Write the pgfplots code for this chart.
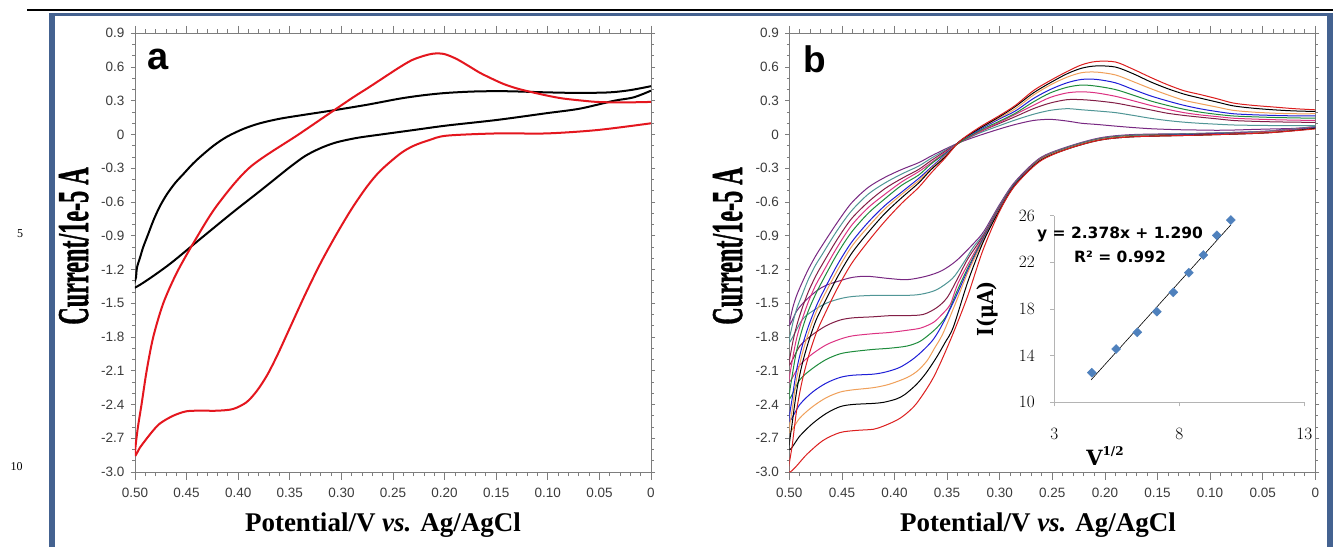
\documentclass[border=0pt]{standalone}
\usepackage{pgfplots}
\pgfplotsset{compat=1.18}
\usepackage{fontspec}
\setmainfont{Liberation Serif}
\newfontfamily\arial{Liberation Sans}
\newfontfamily\dserif{DejaVu Serif}
\newfontfamily\dsans{DejaVu Sans}
\newfontfamily\hserif[FakeBold=1.2]{Liberation Serif Bold}
\definecolor{frameblue}{RGB}{68,98,144}
\definecolor{axgray}{RGB}{125,125,125}
\definecolor{insgray}{RGB}{180,180,180}
\definecolor{ticklab}{RGB}{60,60,60}
\definecolor{cvred}{RGB}{228,22,30}
\definecolor{bred}{RGB}{220,30,30}
\definecolor{borange}{RGB}{240,160,90}
\definecolor{bblue}{RGB}{30,30,215}
\definecolor{bgreen}{RGB}{30,140,60}
\definecolor{bmagenta}{RGB}{220,50,130}
\definecolor{bmaroon}{RGB}{130,30,70}
\definecolor{bteal}{RGB}{80,150,150}
\definecolor{bpurple}{RGB}{120,40,130}
\definecolor{dblue}{RGB}{79,129,189}
\pgfplotsset{
 cvaxis/.style={scale only axis, height=438.7pt,
  xmin=0, xmax=0.5, x dir=reverse, ymin=-3, ymax=0.9,
  xtick={0,0.05,0.1,0.15,0.2,0.25,0.3,0.35,0.4,0.45,0.5},
  xticklabels={0,0.05,0.10,0.15,0.20,0.25,0.30,0.35,0.40,0.45,0.50},
  ytick={-3,-2.7,-2.4,-2.1,-1.8,-1.5,-1.2,-0.9,-0.6,-0.3,0,0.3,0.6,0.9},
  yticklabels={-3.0,-2.7,-2.4,-2.1,-1.8,-1.5,-1.2,-0.9,-0.6,-0.3,0,0.3,0.6,0.9},
  minor x tick num=4, minor y tick num=2, tick align=outside,
  axis line style={draw=axgray, line width=0.9pt},
  every tick/.append style={draw=axgray, line width=0.8pt},
  major tick length=4pt, minor tick length=2.5pt,
  xtick style={/pgfplots/major tick length=7.5pt,/pgfplots/minor tick length=4pt},
  tick label style={font=\arial\fontsize{13.5}{15}\selectfont, text=ticklab},
  xticklabel style={yshift=-9pt},
  yticklabel style={xshift=-3pt},
 },
 cva/.style={line width=2pt, smooth, tension=0.5},
 cvb/.style={line width=1pt, smooth, tension=0.5},
}
\begin{document}
\begin{tikzpicture}
\useasboundingbox (0pt,0pt) rectangle (1333pt,547pt);
\fill[white] (0pt,0pt) rectangle (1333pt,547pt);
% frame
\fill[frameblue] (49.3pt,0pt) rectangle (55pt,534.3pt);
\fill[frameblue] (49.3pt,531pt) rectangle (1333pt,534.3pt);
\fill[frameblue] (1327pt,0pt) rectangle (1333pt,534.3pt);
\draw[line width=1.3pt] (27pt,537pt) -- (1333pt,537pt);
\node[font=\fontsize{12}{14}\selectfont] at (20pt,313pt) {5};
\node[font=\fontsize{12}{14}\selectfont] at (16.7pt,80pt) {10};

% ---------------- panel a
\begin{axis}[cvaxis, at={(135pt,75pt)}, anchor=south west, width=516pt]
\addplot[black, cva] coordinates {
(0,0.39)(0.017,0.33)(0.036,0.30)(0.069,0.23)(0.101,0.19)(0.149,0.13)(0.198,0.08)(0.230,0.04)(0.262,0.0)(0.285,-0.03)(0.305,-0.07)(0.32,-0.12)(0.335,-0.19)(0.35,-0.29)(0.365,-0.40)(0.38,-0.51)(0.405,-0.69)(0.437,-0.93)(0.469,-1.17)(0.5,-1.36)
(0.499,-1.27)(0.498,-1.18)(0.495,-1.09)(0.492,-1.0)(0.487,-0.88)(0.482,-0.76)(0.476,-0.64)(0.469,-0.53)(0.461,-0.43)(0.453,-0.35)(0.445,-0.27)(0.437,-0.20)(0.424,-0.10)(0.411,-0.02)(0.395,0.05)(0.379,0.10)(0.36,0.14)(0.340,0.17)(0.308,0.215)(0.275,0.265)(0.243,0.32)(0.220,0.35)(0.198,0.37)(0.170,0.383)(0.140,0.385)(0.101,0.375)(0.07,0.37)(0.04,0.375)(0.02,0.395)(0,0.43)};
\addplot[cvred, cva] coordinates {
(0,0.10)(0.052,0.04)(0.101,0.01)(0.149,0.01)(0.198,-0.01)(0.215,-0.05)(0.230,-0.10)(0.243,-0.17)(0.262,-0.32)(0.275,-0.46)(0.29,-0.66)(0.305,-0.89)(0.32,-1.14)(0.335,-1.42)(0.35,-1.72)(0.362,-1.96)(0.372,-2.14)(0.382,-2.28)(0.392,-2.38)(0.405,-2.44)(0.42,-2.455)(0.435,-2.455)(0.450,-2.46)(0.463,-2.50)(0.476,-2.57)(0.485,-2.66)(0.495,-2.78)(0.5,-2.85)
(0.4976,-2.63)(0.4935,-2.39)(0.4887,-2.10)(0.4823,-1.80)(0.4726,-1.50)(0.4593,-1.225)(0.4418,-0.94)(0.4205,-0.63)(0.3885,-0.29)(0.340,0.01)(0.292,0.31)(0.275,0.41)(0.26,0.50)(0.245,0.59)(0.232,0.66)(0.22,0.70)(0.21,0.72)(0.2,0.715)(0.188,0.67)(0.175,0.60)(0.166,0.55)(0.155,0.50)(0.143,0.45)(0.13,0.41)(0.117,0.38)(0.1,0.345)(0.085,0.32)(0.065,0.30)(0.052,0.29)(0.03,0.285)(0,0.29)};
\end{axis}

% ---------------- panel b
\begin{axis}[cvaxis, at={(789.3pt,75pt)}, anchor=south west, width=526pt]
% purple
\addplot[bpurple, cvb] coordinates {
(0,0.07)(0.046,0.03)(0.11,0.01)(0.173,0.0)(0.205,-0.03)(0.236,-0.11)(0.262,-0.21)(0.2855,-0.42)(0.30,-0.62)(0.315,-0.86)(0.325,-0.97)(0.341,-1.12)(0.355,-1.21)(0.37,-1.26)(0.388,-1.29)(0.405,-1.28)(0.426,-1.26)(0.44,-1.27)(0.452,-1.30)(0.465,-1.34)(0.474,-1.39)(0.485,-1.48)(0.493,-1.57)(0.5,-1.70)
(0.497,-1.55)(0.493,-1.43)(0.488,-1.32)(0.482,-1.20)(0.475,-1.08)(0.469,-0.99)(0.455,-0.79)(0.441,-0.61)(0.425,-0.47)(0.409,-0.38)(0.393,-0.31)(0.377,-0.25)(0.365,-0.19)(0.352,-0.13)(0.338,-0.07)
(0.32,-0.01)(0.30,0.05)(0.285,0.09)(0.268,0.125)(0.252,0.135)(0.236,0.12)(0.222,0.10)(0.208,0.09)(0.19,0.075)(0.173,0.062)(0.157,0.052)(0.141,0.046)(0.125,0.042)(0.11,0.04)(0.094,0.038)(0.078,0.04)(0.06,0.045)(0.04,0.05)(0.02,0.055)(0,0.07)};
% teal
\addplot[bteal, cvb] coordinates {
(0,0.07)(0.046,0.03)(0.11,0.01)(0.173,-0.005)(0.205,-0.035)(0.236,-0.115)(0.262,-0.215)(0.2855,-0.43)(0.30,-0.63)(0.315,-0.88)(0.325,-1.0)(0.335,-1.15)(0.345,-1.28)(0.36,-1.38)(0.375,-1.42)(0.39,-1.43)(0.42,-1.43)(0.44,-1.44)(0.452,-1.46)(0.465,-1.50)(0.478,-1.57)(0.488,-1.65)(0.5,-1.85)
(0.497,-1.69)(0.493,-1.55)(0.488,-1.43)(0.482,-1.29)(0.475,-1.16)(0.469,-1.07)(0.455,-0.86)(0.441,-0.68)(0.425,-0.53)(0.409,-0.43)(0.393,-0.35)(0.377,-0.28)(0.365,-0.21)(0.352,-0.14)(0.338,-0.07)
(0.32,0.01)(0.30,0.08)(0.285,0.13)(0.268,0.18)(0.252,0.215)(0.236,0.23)(0.222,0.22)(0.208,0.21)(0.19,0.195)(0.173,0.17)(0.157,0.145)(0.141,0.125)(0.125,0.11)(0.11,0.10)(0.094,0.092)(0.078,0.085)(0.06,0.082)(0.04,0.08)(0.02,0.08)(0,0.08)};
% maroon
\addplot[bmaroon, cvb] coordinates {
(0,0.065)(0.046,0.025)(0.11,0.005)(0.173,-0.01)(0.205,-0.04)(0.236,-0.12)(0.262,-0.22)(0.2855,-0.435)(0.30,-0.64)(0.315,-0.89)(0.33,-1.1)(0.34,-1.28)(0.35,-1.45)(0.36,-1.54)(0.373,-1.60)(0.39,-1.61)(0.404,-1.61)(0.42,-1.62)(0.44,-1.63)(0.452,-1.65)(0.465,-1.70)(0.478,-1.78)(0.49,-1.88)(0.5,-2.05)
(0.497,-1.86)(0.493,-1.70)(0.488,-1.55)(0.482,-1.40)(0.475,-1.26)(0.469,-1.16)(0.455,-0.94)(0.441,-0.75)(0.425,-0.60)(0.409,-0.48)(0.393,-0.39)(0.377,-0.31)(0.365,-0.23)(0.352,-0.15)(0.338,-0.07)
(0.32,0.02)(0.30,0.10)(0.285,0.16)(0.268,0.23)(0.252,0.28)(0.236,0.31)(0.222,0.31)(0.208,0.30)(0.19,0.28)(0.173,0.25)(0.157,0.22)(0.141,0.19)(0.125,0.17)(0.11,0.155)(0.094,0.14)(0.078,0.125)(0.06,0.118)(0.04,0.113)(0.02,0.11)(0,0.108)};
% magenta
\addplot[bmagenta, cvb] coordinates {
(0,0.065)(0.046,0.025)(0.11,0.0)(0.173,-0.01)(0.205,-0.04)(0.236,-0.12)(0.262,-0.22)(0.2855,-0.44)(0.30,-0.65)(0.315,-0.90)(0.33,-1.15)(0.34,-1.33)(0.347,-1.51)(0.355,-1.6)(0.363,-1.67)(0.375,-1.72)(0.388,-1.74)(0.405,-1.76)(0.42,-1.77)(0.44,-1.79)(0.452,-1.82)(0.465,-1.87)(0.478,-1.95)(0.49,-2.05)(0.5,-2.2)
(0.497,-2.00)(0.493,-1.81)(0.488,-1.65)(0.482,-1.49)(0.475,-1.34)(0.469,-1.24)(0.455,-1.01)(0.441,-0.81)(0.425,-0.65)(0.409,-0.53)(0.393,-0.42)(0.377,-0.33)(0.365,-0.25)(0.352,-0.16)(0.338,-0.07)
(0.32,0.02)(0.30,0.11)(0.285,0.18)(0.268,0.26)(0.252,0.33)(0.236,0.37)(0.222,0.38)(0.208,0.37)(0.19,0.34)(0.173,0.30)(0.157,0.26)(0.141,0.225)(0.125,0.195)(0.11,0.175)(0.094,0.16)(0.078,0.145)(0.06,0.138)(0.04,0.132)(0.02,0.128)(0,0.125)};
% green
\addplot[bgreen, cvb] coordinates {
(0,0.06)(0.046,0.02)(0.11,0.0)(0.173,-0.01)(0.205,-0.04)(0.236,-0.12)(0.262,-0.225)(0.2855,-0.44)(0.30,-0.655)(0.315,-0.91)(0.33,-1.18)(0.34,-1.38)(0.35,-1.60)(0.358,-1.70)(0.366,-1.77)(0.376,-1.84)(0.388,-1.88)(0.405,-1.90)(0.42,-1.91)(0.44,-1.93)(0.452,-1.95)(0.465,-2.0)(0.478,-2.08)(0.49,-2.18)(0.5,-2.35)
(0.497,-2.13)(0.493,-1.92)(0.488,-1.74)(0.482,-1.57)(0.475,-1.42)(0.469,-1.31)(0.455,-1.07)(0.441,-0.87)(0.425,-0.70)(0.409,-0.57)(0.393,-0.45)(0.377,-0.36)(0.365,-0.26)(0.352,-0.17)(0.338,-0.07)
(0.32,0.03)(0.30,0.12)(0.285,0.19)(0.268,0.29)(0.252,0.37)(0.236,0.42)(0.222,0.44)(0.208,0.43)(0.19,0.40)(0.173,0.35)(0.157,0.30)(0.141,0.26)(0.125,0.225)(0.11,0.2)(0.094,0.18)(0.078,0.165)(0.06,0.158)(0.04,0.152)(0.02,0.148)(0,0.145)};
% blue
\addplot[bblue, cvb] coordinates {
(0,0.06)(0.046,0.02)(0.11,0.0)(0.173,-0.015)(0.205,-0.045)(0.236,-0.125)(0.262,-0.23)(0.2855,-0.445)(0.30,-0.66)(0.315,-0.92)(0.33,-1.2)(0.342,-1.45)(0.354,-1.68)(0.363,-1.82)(0.373,-1.92)(0.383,-2.0)(0.395,-2.07)(0.408,-2.11)(0.42,-2.13)(0.44,-2.14)(0.452,-2.16)(0.465,-2.21)(0.478,-2.29)(0.49,-2.40)(0.5,-2.55)
(0.497,-2.33)(0.493,-2.09)(0.488,-1.89)(0.482,-1.71)(0.475,-1.54)(0.469,-1.42)(0.455,-1.17)(0.441,-0.96)(0.425,-0.78)(0.409,-0.63)(0.393,-0.51)(0.377,-0.39)(0.365,-0.29)(0.352,-0.18)(0.338,-0.06)
(0.32,0.04)(0.30,0.14)(0.285,0.21)(0.268,0.32)(0.252,0.40)(0.236,0.46)(0.222,0.49)(0.208,0.49)(0.19,0.46)(0.173,0.40)(0.157,0.345)(0.141,0.30)(0.125,0.26)(0.11,0.23)(0.094,0.205)(0.078,0.185)(0.06,0.176)(0.04,0.17)(0.02,0.166)(0,0.165)};
% orange
\addplot[borange, cvb] coordinates {
(0,0.055)(0.046,0.02)(0.11,-0.005)(0.173,-0.015)(0.205,-0.045)(0.236,-0.125)(0.262,-0.23)(0.2855,-0.45)(0.30,-0.665)(0.315,-0.93)(0.33,-1.22)(0.342,-1.50)(0.354,-1.77)(0.362,-1.90)(0.369,-2.01)(0.378,-2.10)(0.388,-2.16)(0.405,-2.22)(0.42,-2.25)(0.44,-2.27)(0.452,-2.29)(0.465,-2.34)(0.478,-2.42)(0.49,-2.52)(0.5,-2.65)
(0.497,-2.43)(0.493,-2.17)(0.488,-1.96)(0.482,-1.77)(0.475,-1.59)(0.469,-1.47)(0.455,-1.22)(0.441,-1.00)(0.425,-0.82)(0.409,-0.66)(0.393,-0.53)(0.377,-0.41)(0.365,-0.30)(0.352,-0.19)(0.338,-0.06)
(0.32,0.05)(0.30,0.15)(0.285,0.23)(0.268,0.35)(0.252,0.44)(0.236,0.51)(0.222,0.55)(0.208,0.555)(0.19,0.53)(0.173,0.47)(0.157,0.41)(0.141,0.355)(0.125,0.305)(0.11,0.275)(0.094,0.245)(0.078,0.215)(0.06,0.2)(0.04,0.19)(0.02,0.185)(0,0.185)};
% black
\addplot[black, cvb] coordinates {
(0,0.055)(0.046,0.015)(0.11,-0.005)(0.173,-0.02)(0.205,-0.05)(0.236,-0.13)(0.262,-0.235)(0.2855,-0.45)(0.30,-0.67)(0.315,-0.94)(0.33,-1.30)(0.344,-1.71)(0.352,-1.85)(0.36,-1.98)(0.37,-2.12)(0.379,-2.22)(0.39,-2.31)(0.398,-2.35)(0.41,-2.38)(0.42,-2.39)(0.44,-2.40)(0.452,-2.42)(0.465,-2.48)(0.478,-2.57)(0.49,-2.68)(0.5,-2.8)
(0.497,-2.55)(0.493,-2.28)(0.488,-2.05)(0.482,-1.85)(0.475,-1.66)(0.469,-1.54)(0.455,-1.28)(0.441,-1.06)(0.425,-0.87)(0.409,-0.70)(0.393,-0.56)(0.377,-0.43)(0.365,-0.31)(0.352,-0.20)(0.338,-0.06)
(0.32,0.05)(0.30,0.16)(0.285,0.25)(0.268,0.37)(0.252,0.46)(0.236,0.54)(0.222,0.59)(0.208,0.61)(0.19,0.60)(0.173,0.54)(0.157,0.47)(0.141,0.41)(0.125,0.36)(0.11,0.325)(0.094,0.29)(0.078,0.255)(0.06,0.235)(0.04,0.22)(0.02,0.21)(0,0.205)};
% red
\addplot[bred, cvb] coordinates {
(0,0.05)(0.046,0.015)(0.11,-0.005)(0.173,-0.02)(0.205,-0.05)(0.236,-0.13)(0.262,-0.24)(0.2855,-0.455)(0.30,-0.68)(0.316,-1.03)(0.331,-1.45)(0.347,-1.83)(0.363,-2.16)(0.379,-2.39)(0.39,-2.49)(0.398,-2.54)(0.41,-2.59)(0.42,-2.62)(0.436,-2.63)(0.452,-2.65)(0.468,-2.72)(0.483,-2.84)(0.5,-3.0)
(0.497,-2.75)(0.493,-2.45)(0.488,-2.2)(0.482,-1.98)(0.475,-1.78)(0.469,-1.65)(0.455,-1.38)(0.441,-1.15)(0.425,-0.95)(0.409,-0.77)(0.393,-0.61)(0.377,-0.47)(0.365,-0.34)(0.352,-0.21)(0.338,-0.06)
(0.32,0.06)(0.30,0.17)(0.285,0.26)(0.268,0.39)(0.252,0.48)(0.236,0.56)(0.222,0.62)(0.208,0.65)(0.19,0.645)(0.173,0.58)(0.157,0.51)(0.141,0.445)(0.125,0.39)(0.11,0.357)(0.094,0.32)(0.078,0.28)(0.06,0.26)(0.04,0.245)(0.02,0.23)(0,0.22)};
\end{axis}

% ---------------- inset
\begin{axis}[at={(1054.3pt,144.7pt)}, anchor=south west, scale only axis,
 width=250pt, height=186.6pt, xmin=3, xmax=13, ymin=10, ymax=26,
 axis lines*=left, axis line style={draw=insgray, line width=0.8pt},
 xtick={3,8,13}, ytick={10,14,18,22,26}, minor tick num=0,
 tick align=outside, major tick length=4pt,
 every tick/.append style={draw=insgray, line width=0.8pt},
 tick label style={font=\dserif\bfseries\fontsize{16}{18}\selectfont, text=black},
 yticklabel style={xshift=-12pt}, xticklabel style={yshift=-19pt},
 clip=false]
\addplot[only marks, mark=square*, mark size=3.2pt, mark options={rotate=45, fill=dblue, draw=dblue}] coordinates {
(4.50,12.54)(5.47,14.57)(6.32,16.0)(7.10,17.77)(7.76,19.43)(8.38,21.11)(8.96,22.63)(9.50,24.32)(10.06,25.63)};
\addplot[black, line width=0.6pt] coordinates {(4.47,11.92)(10.06,25.21)};
\end{axis}

% ---------------- texts
\node[anchor=base west, inner sep=0pt, font=\arial\bfseries\fontsize{38}{40}\selectfont] at (147.7pt,477pt) {a};
\node[anchor=base west, inner sep=0pt, font=\arial\bfseries\fontsize{37}{40}\selectfont] at (803pt,474.3pt) {b};
\node[anchor=base, inner sep=0pt, font=\bfseries\fontsize{27}{30}\selectfont] at (383pt,15.5pt) {Potential/V \textit{vs.} Ag/AgCl};
\node[anchor=base, inner sep=0pt, font=\bfseries\fontsize{27}{30}\selectfont] at (1038pt,15.5pt) {Potential/V \textit{vs.} Ag/AgCl};
\node[rotate=90, anchor=base, inner sep=0pt] at (88pt,301pt) {\scalebox{0.55}[1]{\hserif\fontsize{44}{48}\selectfont Current/1e-5 A}};
\node[rotate=90, anchor=base, inner sep=0pt] at (742pt,301pt) {\scalebox{0.55}[1]{\hserif\fontsize{44}{48}\selectfont Current/1e-5 A}};
\node[rotate=90, anchor=base, inner sep=0pt] at (993pt,238pt) {\scalebox{0.86}[1]{\dserif\bfseries\fontsize{22}{24}\selectfont I(μA)}};
\node[anchor=base, inner sep=0pt, font=\dserif\bfseries\fontsize{21}{24}\selectfont] at (1105pt,82pt) {V\raisebox{0.45em}{\fontsize{12}{14}\selectfont 1/2}};
\node[inner sep=0pt, font=\dsans\bfseries\fontsize{15.5}{18}\selectfont] at (1120pt,313pt) {y = 2.378x + 1.290};
\node[inner sep=0pt, font=\dsans\bfseries\fontsize{15.5}{18}\selectfont] at (1120pt,290pt) {R² = 0.992};
\end{tikzpicture}
\end{document}
